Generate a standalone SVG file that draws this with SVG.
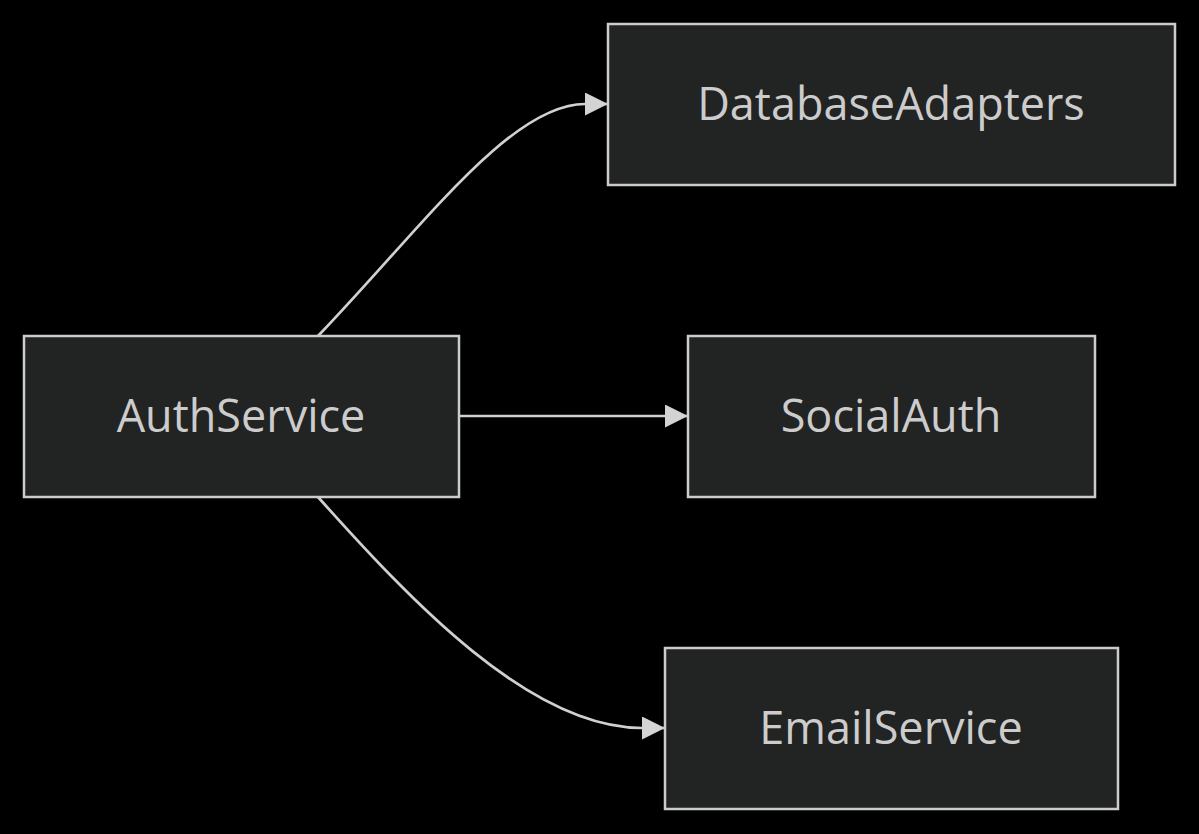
<svg xmlns="http://www.w3.org/2000/svg" width="1199" height="834" viewBox="0 0 1199 834">
  <style>
    .node rect { fill: #222323; stroke: #cccccc; stroke-width: 2.5; }
    .node text { fill: #cccccc; font-family: "Open Sans", "DejaVu Sans", sans-serif; font-size: 45px; font-weight: 500; text-anchor: middle; dominant-baseline: central; }
    .edge { fill: none; stroke: #d0d0d0; stroke-width: 2.7; marker-end: url(#arrow); }
  </style>
  <defs>
    <marker id="arrow" markerUnits="userSpaceOnUse" markerWidth="24" markerHeight="24" refX="23" refY="11.5" orient="auto">
      <path d="M0,0 L23,11.5 L0,23 z" fill="#d3d3d3"/>
    </marker>
  </defs>
  <rect x="0" y="0" width="1199" height="834" fill="#000000"/>
  <g id="connectors">
    <path class="edge" d="M318,336 C420,230 510,104 585,104 L608,104"/>
    <path class="edge" d="M459,416 L688,416"/>
    <path class="edge" d="M318,497 C410,600 530,728 642,728 L665,728"/>
  </g>
  <g id="AuthService" class="node">
    <rect x="24" y="336" width="435" height="161"/>
    <text x="241" y="414">AuthService</text>
  </g>
  <g id="DatabaseAdapters" class="node">
    <rect x="608" y="24" width="567" height="161"/>
    <text x="891" y="102">DatabaseAdapters</text>
  </g>
  <g id="SocialAuth" class="node">
    <rect x="688" y="336" width="407" height="161"/>
    <text x="891" y="414">SocialAuth</text>
  </g>
  <g id="EmailService" class="node">
    <rect x="665" y="648" width="453" height="161"/>
    <text x="891" y="726">EmailService</text>
  </g>
</svg>
